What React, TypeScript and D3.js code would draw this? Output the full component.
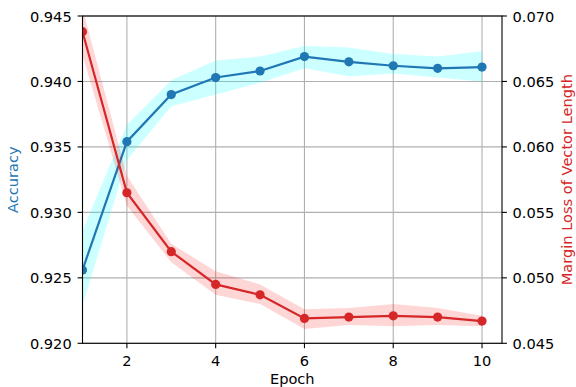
import React from "react";
import * as d3 from "d3";

const epochs = [1, 2, 3, 4, 5, 6, 7, 8, 9, 10];
const accuracy = [0.9256, 0.9354, 0.939, 0.9403, 0.9408, 0.9419, 0.9415, 0.9412, 0.941, 0.9411];
const accUpper = [0.9286, 0.9367, 0.9401, 0.9416, 0.9419, 0.9427, 0.9426, 0.9421, 0.9419, 0.9423];
const accLower = [0.9229, 0.934, 0.9381, 0.939, 0.9399, 0.941, 0.9404, 0.9406, 0.9403, 0.94];
const loss = [0.0688, 0.0565, 0.052, 0.0495, 0.0487, 0.0469, 0.047, 0.0471, 0.047, 0.0467];
const lossUpper = [0.0706, 0.0578, 0.0526, 0.0505, 0.0495, 0.0476, 0.0477, 0.048, 0.0477, 0.0471];
const lossLower = [0.067, 0.0555, 0.0512, 0.0487, 0.048, 0.0461, 0.0464, 0.0463, 0.0464, 0.0463];
const xTicks = [2, 4, 6, 8, 10];
const accTicks = [0.92, 0.925, 0.93, 0.935, 0.94, 0.945];
const lossTicks = [0.045, 0.05, 0.055, 0.06, 0.065, 0.07];

const W = 576, H = 387;
const left = 82.5, right = 502, top = 16, bottom = 343.3;
const font = "DejaVu Sans, sans-serif";
const fs = 14.6;

const App = () => {
  const x = d3.scaleLinear().domain([1, 10.45]).range([left, right]);
  const yA = d3.scaleLinear().domain([0.92, 0.945]).range([bottom, top]);
  const yL = d3.scaleLinear().domain([0.045, 0.07]).range([bottom, top]);

  const idx = epochs.map((_, i) => i);
  const accArea = d3.area<number>().x(i => x(epochs[i])).y0(i => yA(accLower[i])).y1(i => yA(accUpper[i]));
  const lossArea = d3.area<number>().x(i => x(epochs[i])).y0(i => yL(lossLower[i])).y1(i => yL(lossUpper[i]));
  const accLine = d3.line<number>().x(i => x(epochs[i])).y(i => yA(accuracy[i]));
  const lossLine = d3.line<number>().x(i => x(epochs[i])).y(i => yL(loss[i]));
  const fmt = d3.format(".3f");

  return (
    <svg width={W} height={H} style={{ position: "absolute", left: 0, top: 0 }} fontFamily={font}>
      <defs>
        <clipPath id="plot">
          <rect x={left} y={top} width={right - left} height={bottom - top} />
        </clipPath>
      </defs>
      <rect width={W} height={H} fill="white" />
      {/* grid */}
      {xTicks.map(t => (
        <line key={"gx" + t} x1={x(t)} x2={x(t)} y1={top} y2={bottom} stroke="#b0b0b0" strokeWidth={1.1} />
      ))}
      {accTicks.map(t => (
        <line key={"gy" + t} x1={left} x2={right} y1={yA(t)} y2={yA(t)} stroke="#b0b0b0" strokeWidth={1.1} />
      ))}
      <g clipPath="url(#plot)">
        <path d={accArea(idx) || ""} fill="cyan" fillOpacity={0.2} />
        <path d={accLine(idx) || ""} fill="none" stroke="#1f77b4" strokeWidth={2.2} />
        {idx.map(i => (
          <circle key={"a" + i} cx={x(epochs[i])} cy={yA(accuracy[i])} r={4.6} fill="#1f77b4" />
        ))}
      </g>
      <g clipPath="url(#plot)">
        <path d={lossArea(idx) || ""} fill="red" fillOpacity={0.16} />
        <path d={lossLine(idx) || ""} fill="none" stroke="#d62728" strokeWidth={2.2} />
        {idx.map(i => (
          <circle key={"l" + i} cx={x(epochs[i])} cy={yL(loss[i])} r={4.6} fill="#d62728" />
        ))}
      </g>
      {/* spines */}
      <rect x={left} y={top} width={right - left} height={bottom - top} fill="none" stroke="black" strokeWidth={1.1} />
      {/* x ticks */}
      {xTicks.map(t => (
        <g key={"xt" + t}>
          <line x1={x(t)} x2={x(t)} y1={bottom} y2={bottom + 4.9} stroke="black" strokeWidth={1.1} />
          <text x={x(t)} y={bottom + 22.5} fontSize={fs} textAnchor="middle">{t}</text>
        </g>
      ))}
      {/* left ticks */}
      {accTicks.map(t => (
        <g key={"ya" + t}>
          <line x1={left - 4.9} x2={left} y1={yA(t)} y2={yA(t)} stroke="black" strokeWidth={1.1} />
          <text x={left - 10.8} y={yA(t) + 5.5} fontSize={fs} textAnchor="end">{fmt(t)}</text>
        </g>
      ))}
      {/* right ticks */}
      {lossTicks.map(t => (
        <g key={"yl" + t}>
          <line x1={right} x2={right + 4.9} y1={yL(t)} y2={yL(t)} stroke="black" strokeWidth={1.1} />
          <text x={right + 10.5} y={yL(t) + 5.5} fontSize={fs} textAnchor="start">{fmt(t)}</text>
        </g>
      ))}
      <text x={(left + right) / 2} y={383.6} fontSize={fs} textAnchor="middle">Epoch</text>
      <text transform={`translate(18,${(top + bottom) / 2}) rotate(-90)`} fontSize={fs} textAnchor="middle" fill="#1f77b4">Accuracy</text>
      <text transform={`translate(572,${(top + bottom) / 2}) rotate(-90)`} fontSize={fs} textAnchor="middle" fill="#d62728">Margin Loss of Vector Length</text>
    </svg>
  );
};

export default App;
